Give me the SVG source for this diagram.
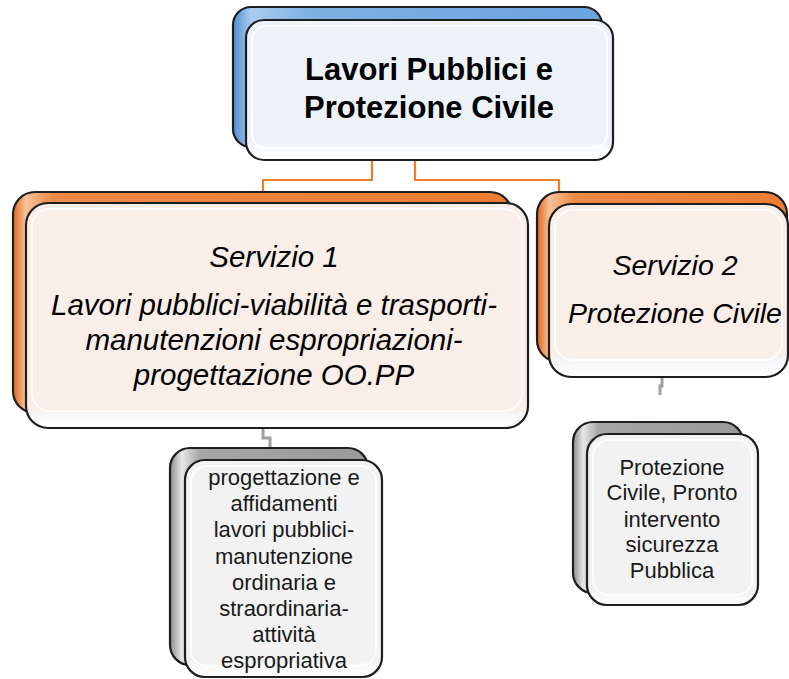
<svg xmlns="http://www.w3.org/2000/svg" width="789" height="679" viewBox="0 0 789 679">
<defs>
<linearGradient id="gBlue" x1="0" y1="0" x2="1" y2="0">
<stop offset="0" stop-color="#4F8FD0"/><stop offset="0.05" stop-color="#A9CDF0"/><stop offset="0.2" stop-color="#7FB2E4"/><stop offset="1" stop-color="#6AA4DD"/>
</linearGradient>
<linearGradient id="gOrange" x1="0" y1="0" x2="1" y2="0">
<stop offset="0" stop-color="#E0661C"/><stop offset="0.025" stop-color="#F8C29A"/><stop offset="0.08" stop-color="#EE8A45"/><stop offset="1" stop-color="#EC7D33"/>
</linearGradient>
<linearGradient id="gOrange2" x1="0" y1="0" x2="1" y2="0">
<stop offset="0" stop-color="#E0661C"/><stop offset="0.05" stop-color="#F8C29A"/><stop offset="0.15" stop-color="#EE8A45"/><stop offset="1" stop-color="#EC7D33"/>
</linearGradient>
<linearGradient id="gGray" x1="0" y1="0" x2="1" y2="0">
<stop offset="0" stop-color="#8C8C8C"/><stop offset="0.06" stop-color="#E6E6E6"/><stop offset="0.15" stop-color="#A6A6A6"/><stop offset="1" stop-color="#9A9A9A"/>
</linearGradient>
<linearGradient id="fBlue" x1="0" y1="0" x2="0" y2="1">
<stop offset="0" stop-color="#EEF3FA"/><stop offset="0.88" stop-color="#EDF2F9"/><stop offset="0.9" stop-color="#F7F8FA"/><stop offset="1" stop-color="#FFFFFF"/>
</linearGradient>
<linearGradient id="fPeach" x1="0" y1="0" x2="0" y2="1">
<stop offset="0" stop-color="#FAEEE8"/><stop offset="0.92" stop-color="#F9EEE8"/><stop offset="0.935" stop-color="#F4F5F7"/><stop offset="1" stop-color="#FFFFFF"/>
</linearGradient>
<linearGradient id="fPeach2" x1="0" y1="0" x2="0" y2="1">
<stop offset="0" stop-color="#FAEEE8"/><stop offset="0.88" stop-color="#F9EEE8"/><stop offset="0.9" stop-color="#F4F5F7"/><stop offset="1" stop-color="#FFFFFF"/>
</linearGradient>
<linearGradient id="fGray" x1="0" y1="0" x2="0" y2="1">
<stop offset="0" stop-color="#F2F2F2"/><stop offset="0.93" stop-color="#F2F2F2"/><stop offset="0.95" stop-color="#F8F8F8"/><stop offset="1" stop-color="#FFFFFF"/>
</linearGradient>
</defs>
<style>
.box{stroke:#1E1E1E;stroke-width:2.2}
.gloss{fill:none;stroke:#FFFFFF;stroke-width:2;opacity:0.8}
.title{font-family:"Liberation Sans",Arial,sans-serif;font-weight:bold;font-size:31px;fill:#000;text-anchor:middle}
.serv{font-family:"Liberation Sans",Arial,sans-serif;font-style:italic;font-size:28.5px;fill:#000;text-anchor:middle}
.serv1{font-size:29.5px}
.leaf{font-family:"Liberation Sans",Arial,sans-serif;font-size:22px;fill:#1A1A1A;text-anchor:middle}
.orange{fill:none;stroke:#ED7D31;stroke-width:2.2}
.gray{fill:none;stroke:#A0A0A0;stroke-width:3}
</style>
<g id="connectors">
<path class="orange" d="M372 160 V180 H263 V192"/>
<path class="orange" d="M415 160 V180 H559 V192"/>
<path class="gray" d="M263 429 V438 H270 V448"/>
<path class="gray" d="M662 378 V386 H660 V395"/>
</g>
<g id="node-root">
<rect class="box" x="233" y="7" width="369" height="140" rx="18" fill="url(#gBlue)"/>
<rect class="box" x="246" y="20" width="367" height="140" rx="18" fill="url(#fBlue)"/>
<rect class="gloss" x="252" y="26" width="355" height="122" rx="14"/>
<text class="title" x="429" y="80">Lavori Pubblici e</text>
<text class="title" x="429" y="118">Protezione Civile</text>
</g>
<g id="node-servizio1">
<rect class="box" x="13" y="192" width="499" height="221" rx="22" fill="url(#gOrange)"/>
<rect class="box" x="26" y="203" width="502" height="225" rx="22" fill="url(#fPeach)"/>
<rect class="gloss" x="32" y="209" width="490" height="202" rx="18"/>
<text class="serv serv1" x="274" y="267">Servizio 1</text>
<text class="serv serv1" x="274" y="315">Lavori pubblici-viabilità e trasporti-</text>
<text class="serv serv1" x="274" y="350">manutenzioni espropriazioni-</text>
<text class="serv serv1" x="274" y="385">progettazione OO.PP</text>
</g>
<g id="node-servizio2">
<rect class="box" x="537" y="192" width="250" height="170" rx="22" fill="url(#gOrange2)"/>
<rect class="box" x="549" y="204" width="239" height="173" rx="22" fill="url(#fPeach2)"/>
<rect class="gloss" x="555" y="210" width="227" height="150" rx="18"/>
<text class="serv" x="675" y="275">Servizio 2</text>
<text class="serv" x="675" y="323">Protezione Civile</text>
</g>
<g id="node-attivita1">
<rect class="box" x="170" y="448" width="198" height="217" rx="20" fill="url(#gGray)"/>
<rect class="box" x="185" y="460" width="197" height="217" rx="20" fill="url(#fGray)"/>
<rect class="gloss" x="191" y="466" width="185" height="200" rx="16"/>
<text class="leaf" x="284" y="485">progettazione e</text>
<text class="leaf" x="284" y="511">affidamenti</text>
<text class="leaf" x="284" y="537">lavori pubblici-</text>
<text class="leaf" x="284" y="564">manutenzione</text>
<text class="leaf" x="284" y="590">ordinaria e</text>
<text class="leaf" x="284" y="616">straordinaria-</text>
<text class="leaf" x="284" y="642">attività</text>
<text class="leaf" x="284" y="668">espropriativa</text>
</g>
<g id="node-attivita2">
<rect class="box" x="573" y="422" width="170" height="171" rx="20" fill="url(#gGray)"/>
<rect class="box" x="587" y="434" width="171" height="171" rx="20" fill="url(#fGray)"/>
<rect class="gloss" x="593" y="440" width="159" height="155" rx="16"/>
<text class="leaf" x="672" y="475">Protezione</text>
<text class="leaf" x="672" y="500">Civile, Pronto</text>
<text class="leaf" x="672" y="527">intervento</text>
<text class="leaf" x="672" y="552">sicurezza</text>
<text class="leaf" x="672" y="578">Pubblica</text>
</g>
</svg>
